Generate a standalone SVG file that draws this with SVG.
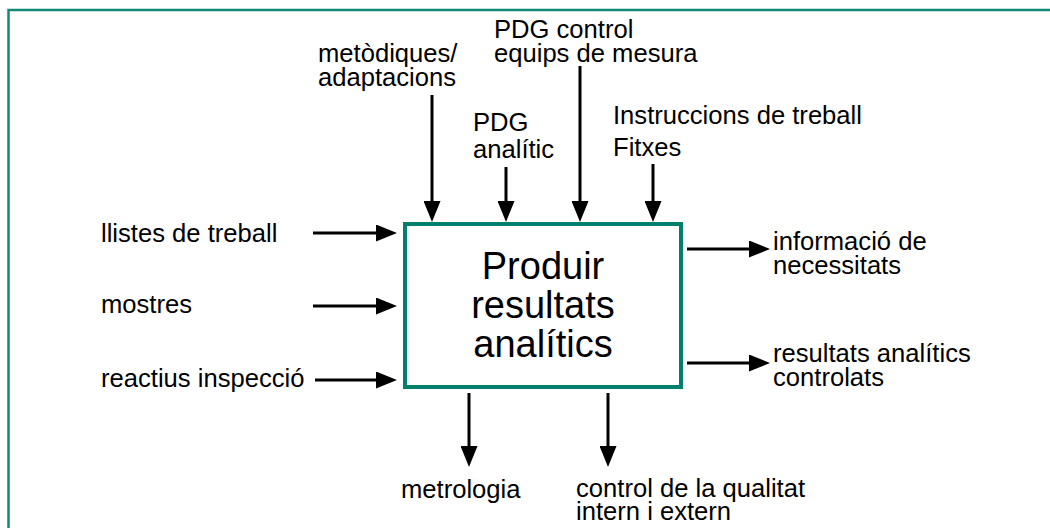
<svg xmlns="http://www.w3.org/2000/svg" width="1050" height="528" viewBox="0 0 1050 528">
  <style>
    .lbl { font-family: "Liberation Sans", Arial, sans-serif; font-size: 25.6px; fill: #000; }
    .title { font-family: "Liberation Sans", Arial, sans-serif; font-size: 38px; fill: #000; text-anchor: middle; }
    .flow { stroke: #000; stroke-width: 3; fill: none; marker-end: url(#head); }
  </style>
  <defs>
    <marker id="head" markerUnits="userSpaceOnUse" markerWidth="21" markerHeight="17" refX="11" refY="8.5" orient="auto">
      <path d="M0,0 L21,8.5 L0,17 Z" fill="#000"/>
    </marker>
  </defs>
  <rect width="1050" height="528" fill="#fff"/>
  <!-- frame -->
  <path d="M8.5,540 V10 H1060" fill="none" stroke="#138a76" stroke-width="2.5"/>

  <!-- connectors -->
  <g id="connectors">
    <!-- controls (top) -->
    <line class="flow" x1="432" y1="95" x2="432" y2="212"/>
    <line class="flow" x1="506" y1="167" x2="506" y2="212"/>
    <line class="flow" x1="580" y1="66" x2="580" y2="212"/>
    <line class="flow" x1="653" y1="164" x2="653" y2="212"/>
    <!-- inputs (left) -->
    <line class="flow" x1="313" y1="233" x2="387" y2="233"/>
    <line class="flow" x1="313" y1="306" x2="387" y2="306"/>
    <line class="flow" x1="315" y1="380" x2="387" y2="380"/>
    <!-- outputs (right) -->
    <line class="flow" x1="687" y1="249" x2="760" y2="249"/>
    <line class="flow" x1="687" y1="363" x2="760" y2="363"/>
    <!-- mechanisms (bottom) -->
    <line class="flow" x1="469" y1="393" x2="469" y2="457"/>
    <line class="flow" x1="608" y1="393" x2="608" y2="457"/>
  </g>

  <!-- activity box -->
  <g id="activity">
    <rect x="405" y="224" width="276" height="163" fill="none" stroke="#00806a" stroke-width="4"/>
    <text class="title" x="543" y="279">Produir</text>
    <text class="title" x="543" y="318">resultats</text>
    <text class="title" x="543" y="357">analítics</text>
  </g>

  <g id="ctrl-metodiques">
    <text class="lbl" x="318" y="62">metòdiques/</text>
    <text class="lbl" x="318" y="86">adaptacions</text>
  </g>
  <g id="ctrl-pdg-control">
    <text class="lbl" x="494" y="38">PDG control</text>
    <text class="lbl" x="494" y="62">equips de mesura</text>
  </g>
  <g id="ctrl-pdg-analitic">
    <text class="lbl" x="473" y="131">PDG</text>
    <text class="lbl" x="473" y="158">analític</text>
  </g>
  <g id="ctrl-instruccions">
    <text class="lbl" x="613" y="124">Instruccions de treball</text>
    <text class="lbl" x="613" y="156">Fitxes</text>
  </g>

  <g id="in-llistes"><text class="lbl" x="101" y="242">llistes de treball</text></g>
  <g id="in-mostres"><text class="lbl" x="101" y="313">mostres</text></g>
  <g id="in-reactius"><text class="lbl" x="101" y="387">reactius inspecció</text></g>

  <g id="out-informacio">
    <text class="lbl" x="773" y="250">informació de</text>
    <text class="lbl" x="773" y="274">necessitats</text>
  </g>
  <g id="out-resultats">
    <text class="lbl" x="773" y="362">resultats analítics</text>
    <text class="lbl" x="773" y="386">controlats</text>
  </g>

  <g id="mech-metrologia"><text class="lbl" x="401" y="498">metrologia</text></g>
  <g id="mech-control">
    <text class="lbl" x="576" y="497">control de la qualitat</text>
    <text class="lbl" x="576" y="520">intern i extern</text>
  </g>
</svg>
